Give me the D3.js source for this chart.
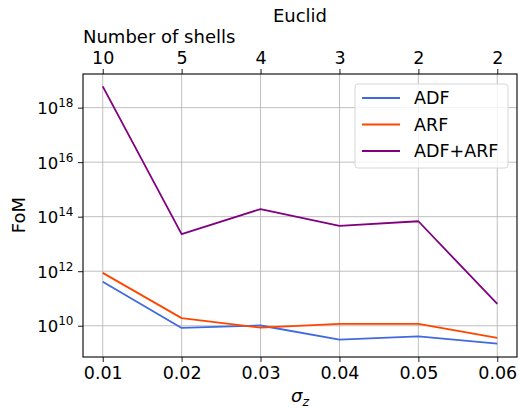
<!DOCTYPE html>
<html>
<head>
<meta charset="utf-8">
<script src="https://cdn.jsdelivr.net/npm/d3@7"></script>
<style>
  html, body { margin: 0; padding: 0; background: #fff; }
  svg text { font-family: "DejaVu Sans", sans-serif; fill: #000; }
</style>
</head>
<body>
<svg id="chart" width="519" height="410"></svg>
<script>
// Redshift uncertainty per bin and the corresponding number of shells
const sigmaZ = [0.01, 0.02, 0.03, 0.04, 0.05, 0.06];
const shellLabels = ["10", "5", "4", "3", "2", "2"];
const yTickExponents = [10, 12, 14, 16, 18];

// Figure of merit for each probe combination
const fomADF = [4.1e11, 8.3e9, 1.02e10, 3.1e9, 4.1e9, 2.2e9];
const fomARF = [8.7e11, 1.9e10, 8.5e9, 1.17e10, 1.17e10, 3.6e9];
const fomADFARF = [6.0e18, 2.3e13, 1.9e14, 4.6e13, 6.8e13, 6.3e10];

const seriesNames = ["ADF", "ARF", "ADF+ARF"];
const seriesValues = [fomADF, fomARF, fomADFARF];
const seriesColors = ["#4169e1", "#ff4500", "#800080"];

const svg = d3.select("#chart");
const plot = { left: 83, right: 517, top: 74, bottom: 357 };

const x = d3.scaleLinear().domain([0.0075, 0.0625]).range([plot.left, plot.right]);
const y = d3.scaleLog().domain([Math.pow(10, 8.853), Math.pow(10, 19.234)]).range([plot.bottom, plot.top]);

// grid
const grid = svg.append("g").attr("stroke", "#b0b0b0").attr("stroke-width", 0.8);
sigmaZ.forEach(v => grid.append("line")
  .attr("x1", x(v)).attr("x2", x(v)).attr("y1", plot.top).attr("y2", plot.bottom));
yTickExponents.forEach(e => grid.append("line")
  .attr("x1", plot.left).attr("x2", plot.right)
  .attr("y1", y(Math.pow(10, e))).attr("y2", y(Math.pow(10, e))));

// series lines
const line = d3.line().x((d, i) => x(sigmaZ[i])).y(d => y(d));
seriesValues.forEach((vals, k) => {
  svg.append("path").datum(vals)
    .attr("d", line)
    .attr("fill", "none")
    .attr("stroke", seriesColors[k])
    .attr("stroke-width", 1.8)
    .attr("stroke-linejoin", "round");
});

// bottom axis
const bottomAxis = d3.axisBottom(x).tickValues(sigmaZ).tickFormat(d3.format(".2f")).tickSize(5).tickPadding(5);
const gb = svg.append("g").attr("transform", `translate(0,${plot.bottom})`).call(bottomAxis);
gb.select(".domain").remove();
gb.selectAll("text").attr("font-size", "17.5px").attr("font-family", "DejaVu Sans");
gb.selectAll("line").attr("stroke", "#000").attr("stroke-width", 0.9);

// top axis with shell counts
const topAxis = d3.axisTop(x).tickValues(sigmaZ).tickFormat((d, i) => shellLabels[i]).tickSize(5).tickPadding(5);
const gt = svg.append("g").attr("transform", `translate(0,${plot.top})`).call(topAxis);
gt.select(".domain").remove();
gt.selectAll("text").attr("font-size", "17.5px").attr("font-family", "DejaVu Sans");
gt.selectAll("line").attr("stroke", "#000").attr("stroke-width", 0.9);

// left axis with power-of-ten labels
const leftAxis = d3.axisLeft(y).tickValues(yTickExponents.map(e => Math.pow(10, e))).tickFormat("").tickSize(5);
const gl = svg.append("g").attr("transform", `translate(${plot.left},0)`).call(leftAxis);
gl.select(".domain").remove();
gl.selectAll("line").attr("stroke", "#000").attr("stroke-width", 0.9);
yTickExponents.forEach(e => {
  const t = svg.append("text")
    .attr("x", 73.5).attr("y", y(Math.pow(10, e)) + 6.5)
    .attr("text-anchor", "end")
    .attr("font-size", "16.5px");
  t.append("tspan").text("10");
  t.append("tspan").attr("font-size", "12px").attr("dy", -7).text(String(e));
});

// frame
svg.append("rect")
  .attr("x", plot.left).attr("y", plot.top)
  .attr("width", plot.right - plot.left).attr("height", plot.bottom - plot.top)
  .attr("fill", "none").attr("stroke", "#000").attr("stroke-width", 1.1);

// labels
svg.append("text").attr("x", (plot.left + plot.right) / 2).attr("y", 402)
  .attr("text-anchor", "middle").attr("font-size", "18px")
  .html('<tspan font-style="italic">σ</tspan><tspan font-style="italic" font-size="12.5px" dy="4">z</tspan>');
svg.append("text").attr("transform", "translate(25,215) rotate(-90)")
  .attr("text-anchor", "middle").attr("font-size", "18px").text("FoM");
svg.append("text").attr("x", plot.left).attr("y", 43)
  .attr("font-size", "18px").text("Number of shells");
svg.append("text").attr("x", (plot.left + plot.right) / 2).attr("y", 21.5)
  .attr("text-anchor", "middle").attr("font-size", "18px").text("Euclid");

// legend
const legend = svg.append("g");
legend.append("rect")
  .attr("x", 355).attr("y", 84).attr("width", 153).attr("height", 84)
  .attr("rx", 3).attr("fill", "#fff").attr("fill-opacity", 0.8)
  .attr("stroke", "#d6d6d6").attr("stroke-width", 1);
seriesNames.forEach((name, k) => {
  const yy = 98 + k * 26.5;
  legend.append("line").attr("x1", 362).attr("x2", 400).attr("y1", yy).attr("y2", yy)
    .attr("stroke", seriesColors[k]).attr("stroke-width", 1.8);
  legend.append("text").attr("x", 414).attr("y", yy + 6.2)
    .attr("font-size", "17.5px").text(name);
});
</script>
</body>
</html>
